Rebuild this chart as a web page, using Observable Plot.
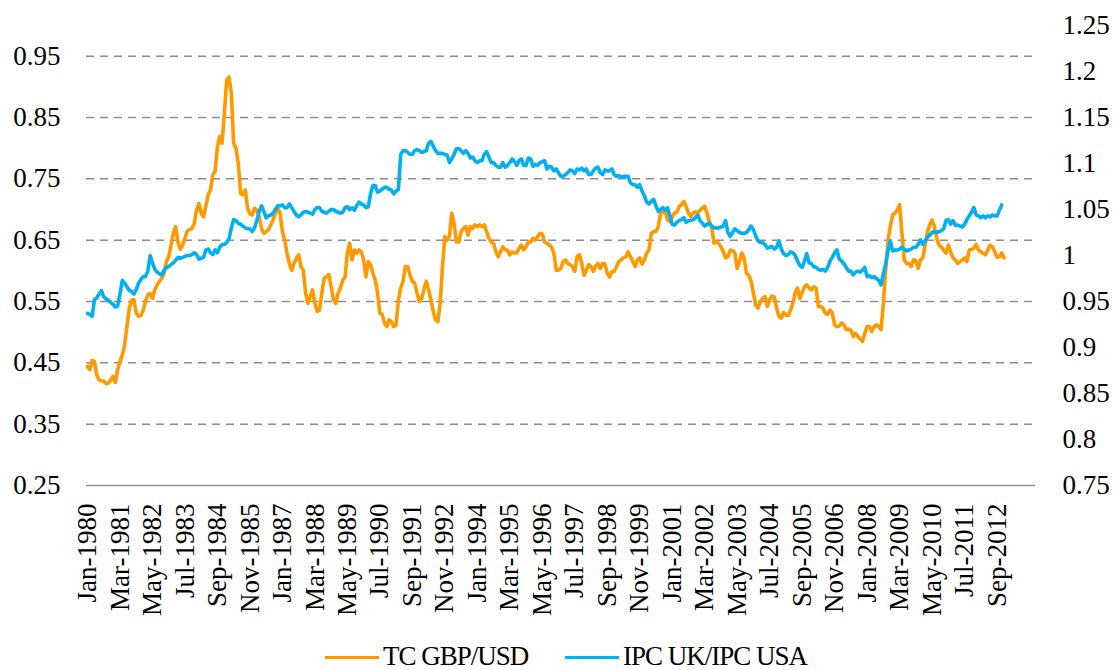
<!DOCTYPE html>
<html><head><meta charset="utf-8">
<script src="https://cdn.jsdelivr.net/npm/d3@7"></script>
<script src="https://cdn.jsdelivr.net/npm/@observablehq/plot@0.6"></script>
<style>
html,body{margin:0;padding:0;background:#fff;overflow:hidden;}
#wrap{position:relative;width:1113px;height:670px;font-family:"Liberation Serif",serif;}
#legend{position:absolute;top:642px;left:0;width:1113px;height:28px;}
.item{position:absolute;top:0;display:flex;align-items:center;height:28px;line-height:28px;font-size:27px;letter-spacing:-1px;color:#000;white-space:nowrap;}
.sw{width:54px;height:3.5px;margin-right:4px;margin-top:3px;}
</style></head><body>
<div id="wrap"><div id="chart"></div><div id="legend"></div></div>
<script>
// Series names and colours
const seriesNames = ["TC GBP/USD", "IPC UK/IPC USA"];
const seriesColors = ["#FF9900", "#00B0F0"];

// Monthly TC GBP/USD (left axis), Jan-1980 .. Dec-2012
const tcGbpUsd = [
0.444,0.439,0.454,0.452,0.430,0.422,0.421,0.420,0.416,0.417,0.422,0.428,
0.418,0.439,0.452,0.463,0.479,0.509,0.539,0.552,0.553,0.531,0.526,0.527,
0.536,0.550,0.561,0.563,0.555,0.569,0.577,0.583,0.588,0.596,0.615,0.623,
0.642,0.661,0.672,0.647,0.635,0.642,0.653,0.665,0.667,0.669,0.677,0.699,
0.710,0.694,0.688,0.705,0.724,0.732,0.756,0.762,0.802,0.819,0.808,0.857,
0.911,0.916,0.889,0.808,0.800,0.775,0.726,0.724,0.732,0.702,0.693,0.691,
0.702,0.699,0.688,0.669,0.661,0.664,0.667,0.675,0.683,0.694,0.702,0.694,
0.664,0.650,0.629,0.612,0.601,0.612,0.620,0.626,0.607,0.601,0.564,0.547,
0.558,0.569,0.547,0.534,0.536,0.564,0.588,0.590,0.594,0.574,0.553,0.547,
0.564,0.572,0.585,0.590,0.629,0.645,0.618,0.634,0.629,0.634,0.631,0.618,
0.590,0.615,0.610,0.596,0.585,0.564,0.531,0.529,0.515,0.509,0.520,0.517,
0.509,0.512,0.553,0.572,0.583,0.607,0.607,0.593,0.583,0.580,0.564,0.550,
0.555,0.569,0.583,0.569,0.553,0.534,0.520,0.517,0.547,0.607,0.656,0.650,
0.656,0.694,0.677,0.647,0.647,0.664,0.669,0.672,0.658,0.672,0.669,0.675,
0.672,0.675,0.672,0.675,0.664,0.653,0.647,0.645,0.631,0.623,0.631,0.639,
0.634,0.634,0.626,0.631,0.629,0.629,0.637,0.642,0.634,0.639,0.647,0.647,
0.653,0.650,0.656,0.661,0.660,0.647,0.645,0.642,0.639,0.629,0.601,0.601,
0.604,0.615,0.618,0.612,0.610,0.607,0.599,0.623,0.626,0.612,0.593,0.601,
0.610,0.607,0.599,0.608,0.612,0.604,0.612,0.611,0.596,0.590,0.599,0.599,
0.607,0.615,0.618,0.621,0.623,0.631,0.623,0.615,0.607,0.618,0.621,0.611,
0.618,0.629,0.634,0.661,0.664,0.664,0.672,0.694,0.695,0.696,0.683,0.680,
0.688,0.694,0.696,0.705,0.708,0.713,0.705,0.694,0.688,0.694,0.696,0.694,
0.699,0.702,0.705,0.694,0.680,0.672,0.645,0.647,0.645,0.639,0.631,0.621,
0.623,0.634,0.633,0.629,0.604,0.615,0.629,0.621,0.596,0.593,0.583,0.564,
0.544,0.539,0.550,0.555,0.558,0.542,0.553,0.559,0.557,0.539,0.526,0.523,
0.532,0.528,0.527,0.536,0.547,0.564,0.572,0.555,0.564,0.574,0.577,0.572,
0.569,0.574,0.572,0.542,0.542,0.539,0.531,0.529,0.536,0.531,0.512,0.509,
0.510,0.515,0.512,0.504,0.505,0.503,0.493,0.498,0.493,0.489,0.485,0.498,
0.509,0.509,0.501,0.509,0.512,0.509,0.504,0.547,0.601,0.650,0.672,0.691,
0.694,0.699,0.708,0.661,0.618,0.612,0.612,0.607,0.618,0.617,0.604,0.618,
0.621,0.642,0.664,0.675,0.683,0.672,0.653,0.642,0.639,0.634,0.629,0.642,
0.631,0.621,0.618,0.612,0.615,0.618,0.621,0.615,0.634,0.635,0.637,0.643,
0.634,0.631,0.629,0.626,0.634,0.642,0.639,0.631,0.622,0.623,0.629,0.621
];

// Monthly IPC UK / IPC USA (right axis), Jan-1980 .. Nov-2012
const ipcUkUsa = [
0.937,0.936,0.934,0.952,0.954,0.958,0.962,0.955,0.953,0.951,0.949,0.947,
0.944,0.945,0.958,0.973,0.970,0.966,0.962,0.961,0.958,0.963,0.970,0.974,
0.977,0.977,0.983,1.000,0.992,0.985,0.982,0.980,0.979,0.984,0.987,0.988,
0.990,0.992,0.995,0.998,0.997,0.998,0.999,1.000,1.000,1.001,1.003,1.001,
0.996,0.997,0.998,1.006,1.007,1.003,1.001,1.006,1.003,1.009,1.012,1.012,
1.014,1.018,1.030,1.039,1.038,1.035,1.034,1.032,1.030,1.029,1.029,1.026,
1.030,1.038,1.048,1.054,1.048,1.041,1.043,1.044,1.046,1.050,1.054,1.054,
1.055,1.052,1.052,1.056,1.052,1.048,1.044,1.042,1.044,1.047,1.048,1.047,
1.046,1.045,1.050,1.052,1.052,1.048,1.047,1.046,1.048,1.050,1.050,1.048,
1.047,1.046,1.047,1.052,1.053,1.050,1.052,1.049,1.054,1.058,1.056,1.055,
1.052,1.053,1.067,1.076,1.076,1.069,1.070,1.072,1.074,1.074,1.072,1.071,
1.067,1.070,1.072,1.110,1.114,1.114,1.112,1.110,1.110,1.114,1.115,1.114,
1.112,1.113,1.114,1.122,1.124,1.119,1.114,1.111,1.111,1.111,1.110,1.109,
1.101,1.105,1.110,1.116,1.116,1.114,1.111,1.114,1.111,1.106,1.107,1.103,
1.101,1.103,1.103,1.110,1.113,1.107,1.101,1.101,1.098,1.096,1.096,1.101,
1.096,1.098,1.101,1.105,1.102,1.098,1.103,1.105,1.098,1.098,1.106,1.105,
1.097,1.099,1.098,1.101,1.102,1.103,1.094,1.097,1.096,1.092,1.094,1.090,
1.086,1.086,1.088,1.090,1.093,1.092,1.089,1.094,1.093,1.095,1.092,1.094,
1.088,1.088,1.092,1.095,1.096,1.090,1.088,1.093,1.092,1.092,1.094,1.088,
1.086,1.087,1.085,1.086,1.086,1.086,1.079,1.077,1.077,1.074,1.077,1.070,
1.065,1.058,1.056,1.059,1.061,1.054,1.048,1.050,1.052,1.049,1.052,1.043,
1.034,1.033,1.036,1.038,1.039,1.041,1.036,1.038,1.038,1.039,1.041,1.044,
1.038,1.035,1.032,1.034,1.035,1.032,1.030,1.030,1.030,1.031,1.032,1.038,
1.025,1.021,1.025,1.029,1.027,1.025,1.024,1.024,1.025,1.028,1.032,1.028,
1.021,1.016,1.014,1.014,1.012,1.008,1.009,1.010,1.007,1.009,1.016,1.007,
1.002,1.000,1.001,1.004,1.003,1.000,0.994,0.989,0.987,0.994,1.002,0.992,
0.991,0.988,0.987,0.985,0.984,0.985,0.983,0.987,0.994,0.998,1.003,1.006,
0.996,0.994,0.991,0.987,0.983,0.983,0.979,0.982,0.983,0.982,0.984,0.987,
0.977,0.978,0.976,0.977,0.975,0.973,0.968,0.980,0.991,1.005,1.016,1.005,
1.006,1.006,1.007,1.009,1.007,1.005,1.006,1.007,1.009,1.009,1.012,1.017,
1.012,1.016,1.020,1.022,1.025,1.026,1.025,1.026,1.027,1.029,1.038,1.039,
1.034,1.038,1.033,1.033,1.032,1.031,1.034,1.039,1.043,1.047,1.052,1.044,
1.043,1.041,1.043,1.041,1.043,1.042,1.044,1.043,1.043,1.049,1.055
];

// Category tick labels (every 14 months)
const xTickLabels = ["Jan-1980","Mar-1981","May-1982","Jul-1983","Sep-1984","Nov-1985","Jan-1987",
"Mar-1988","May-1989","Jul-1990","Sep-1991","Nov-1992","Jan-1994","Mar-1995","May-1996","Jul-1997",
"Sep-1998","Nov-1999","Jan-2001","Mar-2002","May-2003","Jul-2004","Sep-2005","Nov-2006","Jan-2008",
"Mar-2009","May-2010","Jul-2011","Sep-2012"];
const leftTicks = [0.25,0.35,0.45,0.55,0.65,0.75,0.85,0.95];
const rightTicks = [0.75,0.8,0.85,0.9,0.95,1,1.05,1.1,1.15,1.2,1.25];
const leftDomain = [0.25, 1.0];
const rightDomain = [0.75, 1.25];

const monthNames = ["Jan","Feb","Mar","Apr","May","Jun","Jul","Aug","Sep","Oct","Nov","Dec"];
const labelIndex = s => { const [m, y] = s.split("-"); return (+y - 1980) * 12 + monthNames.indexOf(m); };
const tickIdx = xTickLabels.map(labelIndex);
const tickMap = new Map(xTickLabels.map(s => [labelIndex(s), s]));

// map right-axis value onto left-axis coordinates
const toLeft = w => leftDomain[0] + (w - rightDomain[0]) * (leftDomain[1] - leftDomain[0]) / (rightDomain[1] - rightDomain[0]);
const fromLeft = v => rightDomain[0] + (v - leftDomain[0]) * (rightDomain[1] - rightDomain[0]) / (leftDomain[1] - leftDomain[0]);

const orangeData = tcGbpUsd.map((v, i) => ({i, v}));
const blueData = ipcUkUsa.map((w, i) => ({i, v: toLeft(w)}));

const chart = Plot.plot({
  width: 1113,
  height: 635,
  marginLeft: 86,
  marginRight: 78,
  marginTop: 25,
  marginBottom: 150,
  x: {domain: [-0.43, 408.57], axis: null},
  y: {domain: leftDomain, axis: null},
  style: {fontFamily: "'Liberation Serif', serif", fontSize: "27px", color: "#000", background: "#fff", overflow: "visible"},
  marks: [
    Plot.ruleY(leftTicks.slice(1), {stroke: "#8c8c8c", strokeWidth: 1.5, strokeDasharray: "8,6"}),
    Plot.ruleY([leftTicks[0]], {stroke: "#8c8c8c", strokeWidth: 1.5}),
    Plot.line(orangeData, {x: "i", y: "v", stroke: seriesColors[0], strokeWidth: 3.6}),
    Plot.line(blueData, {x: "i", y: "v", stroke: seriesColors[1], strokeWidth: 3.6}),
    Plot.axisY({anchor: "left", ticks: leftTicks, tickSize: 0, tickPadding: 26, tickFormat: d3.format(".2f"), label: null}),
    Plot.axisY({anchor: "right", ticks: rightTicks.map(toLeft), tickSize: 0, tickPadding: 27,
      tickFormat: d => String(+fromLeft(d).toFixed(2)), label: null}),
    Plot.axisX({ticks: tickIdx, tickFormat: d => tickMap.get(Math.round(d)), tickRotate: -90, tickSize: 0, tickPadding: 18, label: null})
  ]
});
document.getElementById("chart").appendChild(chart);

const legend = document.getElementById("legend");
const lefts = [325, 565];
seriesNames.forEach((name, k) => {
  const item = document.createElement("div");
  item.className = "item";
  item.style.left = lefts[k] + "px";
  const sw = document.createElement("span");
  sw.className = "sw";
  sw.style.background = seriesColors[k];
  const t = document.createElement("span");
  t.textContent = name;
  item.appendChild(sw); item.appendChild(t);
  legend.appendChild(item);
});
</script>
</body></html>
